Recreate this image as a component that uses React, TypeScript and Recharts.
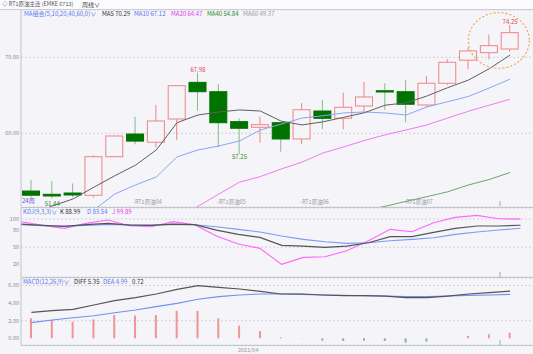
import { ComposedChart, Bar, Line, XAxis, YAxis, CartesianGrid, ReferenceDot, Cell } from "recharts";

// weekly RT1 crude, 24 bars
const opens = [52.4, 51.97, 52.14, 51.84, 56.92, 59.9, 58.82, 61.88, 66.7, 65.47, 61.53, 60.79, 61.39, 59.25, 62.93, 61.97, 63.59, 65.6, 65.47, 63.72, 66.58, 69.62, 70.61, 71.09];
const closes = [51.85, 51.75, 51.88, 56.92, 59.64, 58.97, 61.62, 66.26, 65.47, 61.39, 60.66, 61.13, 59.25, 63.1, 61.97, 63.42, 64.78, 65.43, 63.82, 66.58, 69.34, 70.84, 71.53, 73.24];
const highs = [53.86, 53.7, 53.4, 57.1, 59.74, 62.18, 63.72, 66.35, 67.98, 66.45, 61.97, 62.18, 61.45, 63.95, 64.38, 65.34, 66.75, 66.58, 67.0, 67.54, 69.74, 71.28, 73.0, 74.25];
const lows = [51.55, 51.44, 51.6, 51.55, 56.92, 58.55, 58.16, 59.1, 62.97, 58.16, 57.25, 58.76, 57.58, 58.6, 60.53, 60.53, 62.84, 63.07, 61.45, 63.5, 66.36, 68.42, 69.74, 70.74];

const ma5 = [49.2, 50.43, 51.36, 52.9, 54.4, 55.8, 57.8, 61.4, 62.4, 62.8, 63.07, 62.93, 61.6, 61.1, 61.5, 62.1, 62.7, 63.7, 64.0, 64.9, 66.0, 67.0, 68.5, 70.29];
const ma10 = [null, null, 48.0, 49.9, 52.0, 53.2, 54.25, 56.9, 57.8, 58.33, 58.99, 60.43, 61.2, 62.0, 62.3, 62.67, 62.8, 62.67, 62.4, 63.46, 64.16, 64.84, 65.96, 67.12];
const ma20 = [null, null, null, null, null, null, null, 49.1, 50.38, 52.0, 53.57, 54.3, 55.3, 56.2, 57.4, 58.2, 59.05, 59.8, 60.43, 61.1, 62.0, 62.9, 63.7, 64.47];
const ma40 = [null, null, null, null, null, null, null, null, null, null, null, null, null, null, null, null, 49.8, 50.4, 51.04, 51.66, 52.3, 53.2, 53.92, 54.84];

const kVals = [91.1, 88.7, 87.0, 89.9, 92.3, 89.3, 88.7, 91.1, 89.9, 80.4, 72.7, 67.4, 53.2, 52.0, 49.6, 52.0, 57.9, 68.6, 68.6, 76.3, 83.4, 87.6, 87.6, 88.99];
const dVals = [89.9, 88.1, 87.6, 88.7, 90.5, 89.9, 89.3, 90.5, 89.9, 86.4, 81.6, 76.9, 69.8, 63.9, 59.7, 56.7, 57.9, 61.5, 63.9, 66.8, 72.7, 76.9, 80.4, 83.54];
const jVals = [95.3, 88.7, 83.4, 92.3, 98.2, 88.1, 86.4, 95.3, 89.9, 69.8, 55.6, 47.9, 19.4, 31.9, 33.0, 43.7, 61.5, 81.6, 77.5, 93.5, 103.0, 106.5, 100.6, 99.89];

const diff = [2.95, 3.14, 3.29, 3.78, 4.28, 4.62, 5.03, 5.56, 5.98, 5.79, 5.6, 5.34, 5.03, 5.03, 4.92, 4.84, 4.84, 4.8, 4.62, 4.62, 4.8, 5.03, 5.18, 5.35];
const dea = [1.78, 2.08, 2.34, 2.57, 2.91, 3.22, 3.6, 3.97, 4.43, 4.73, 4.92, 5.03, 5.03, 4.99, 4.92, 4.88, 4.84, 4.8, 4.73, 4.73, 4.8, 4.88, 4.92, 4.99];
const macd = [2.27, 2.08, 1.89, 2.16, 2.65, 2.58, 2.65, 3.11, 3.11, 2.27, 1.44, 0.83, 0.11, 0.04, -0.27, -0.3, -0.27, -0.3, -0.49, -0.38, 0.02, 0.27, 0.45, 0.64];

const rows = opens.map((o, i) => ({
  i,
  open: o,
  close: closes[i],
  high: highs[i],
  low: lows[i],
  ma5: ma5[i],
  ma10: ma10[i],
  ma20: ma20[i],
  ma40: ma40[i],
  k: kVals[i],
  d: dVals[i],
  j: jVals[i],
  diff: diff[i],
  dea: dea[i],
  macd: macd[i],
}));

const BG = "#f4f4f9";
const UP = "#f08585";
const DOWN = "#007300";
const DOWN_WICK = "#86bd86";
const FONT = "'Noto Sans CJK SC', 'Noto Sans', sans-serif";
const GRID = "#d0d0d8";
const AXIS = "#c4c4cc";
const TICK = { fontSize: 5.5, fill: "#8a8a92", fontFamily: FONT };

function Candle(props: any) {
  const { x, y, width, height, payload } = props;
  if (x == null || y == null || !payload) return null;
  const { open, close, high, low } = payload;
  const top = Math.min(y, y + height);
  const h = Math.abs(height);
  const span = high - low || 1;
  const py = (v: number) => top + ((high - v) / span) * h;
  const cx = x + width / 2;
  const up = close > open;
  const bTop = py(Math.max(open, close));
  const bBot = Math.max(py(Math.min(open, close)), bTop + 1);
  const wick = up ? UP : DOWN_WICK;
  return (
    <g>
      {bTop > top + 0.3 && <line x1={cx} x2={cx} y1={top} y2={bTop} stroke={wick} strokeWidth={1} />}
      {bBot < top + h - 0.3 && <line x1={cx} x2={cx} y1={bBot} y2={top + h} stroke={wick} strokeWidth={1} />}
      <rect
        x={x + 0.5}
        y={bTop}
        width={width - 1}
        height={bBot - bTop}
        fill={up ? BG : DOWN}
        stroke={up ? UP : DOWN}
        strokeWidth={1}
      />
    </g>
  );
}

function Txt({ x, y, color, children, size = 6 }: any) {
  return (
    <span
      style={{
        position: "absolute",
        left: x,
        top: y,
        fontSize: size,
        lineHeight: 1,
        color,
        whiteSpace: "nowrap",
        fontFamily: FONT,
      }}
    >
      {children}
    </span>
  );
}

const xPad = { left: 0, right: 12.5 };

export default function App() {
  return (
    <div
      style={{
        position: "absolute",
        left: 0,
        top: 0,
        width: 533,
        height: 354,
        background: BG,
        overflow: "hidden",
        fontFamily: FONT,
      }}
    >
      {/* header bar */}
      <div
        style={{
          position: "absolute",
          left: 0,
          top: 0,
          width: 533,
          height: 9,
          background: "#fbfbfd",
          borderBottom: "1px solid #cdcdd4",
        }}
      />
      <Txt x={2} y={2} color="#555" size={5.5}>◇ RT1原油主连 (EMKE 6713)</Txt>
      <Txt x={82} y={1.5} color="#444" size={6}>周线∨</Txt>

      {/* main candle panel */}
      <div style={{ position: "absolute", left: 0, top: 10 }}>
        <ComposedChart width={533} height={197} data={rows} margin={{ top: 0, right: 0, bottom: 0, left: 0 }}>
          <CartesianGrid vertical={false} stroke={GRID} strokeDasharray="2 2" />
          <XAxis dataKey="i" type="category" hide padding={xPad} />
          <YAxis
            width={21}
            domain={[50.3, 76.22]}
            allowDataOverflow
            ticks={[60, 70]}
            tickFormatter={(v: number) => v.toFixed(2)}
            tick={TICK}
            tickLine={false}
            tickSize={0}
            tickMargin={2}
            axisLine={{ stroke: AXIS }}
          />
          <Bar dataKey={(d: any) => [d.low, d.high]} barSize={18} isAnimationActive={false} shape={(p: any) => <Candle {...p} />} />
          <Line dataKey="ma40" stroke="#6aa66a" strokeWidth={1} dot={false} isAnimationActive={false} />
          <Line dataKey="ma20" stroke="#f27af2" strokeWidth={1} dot={false} isAnimationActive={false} />
          <Line dataKey="ma10" stroke="#8aa6f2" strokeWidth={1} dot={false} isAnimationActive={false} />
          <Line dataKey="ma5" stroke="#606060" strokeWidth={1} dot={false} isAnimationActive={false} />
          <ReferenceDot x={8} y={67.98} r={0} stroke="none" label={{ value: "67.98", position: "top", offset: 1, fill: "#e04848", fontSize: 6, fontFamily: FONT }} />
          <ReferenceDot x={23} y={74.25} r={0} stroke="none" label={{ value: "74.25", position: "top", offset: 1, fill: "#e04848", fontSize: 6, fontFamily: FONT }} />
          <ReferenceDot x={10} y={57.25} r={0} stroke="none" label={{ value: "57.25", position: "bottom", offset: 1, fill: "#2e8a2e", fontSize: 6, fontFamily: FONT }} />
          <ReferenceDot x={1} y={51.44} r={0} stroke="none" label={{ value: "51.44", position: "bottom", offset: 3, fill: "#2e8a2e", fontSize: 6, fontFamily: FONT }} />
        </ComposedChart>
      </div>

      {/* MA legend */}
      <Txt x={24} y={11} color="#5b78ee">MA组合(5,10,20,40,60,0)∨</Txt>
      <Txt x={102} y={11} color="#333">MA5 70.29</Txt>
      <Txt x={134} y={11} color="#5b78ee">MA10 67.12</Txt>
      <Txt x={171} y={11} color="#e040e0">MA20 64.47</Txt>
      <Txt x={207} y={11} color="#2a8a2a">MA40 54.84</Txt>
      <Txt x={243} y={11} color="#9a9a9a">MA60 49.37</Txt>

      {/* contract roll markers */}
      <Txt x={22} y={198} color="#5656c8">24周</Txt>
      <Txt x={133} y={200} color="#9a9aa2" size={5.5}>-RT1原油04</Txt>
      <Txt x={217} y={200} color="#9a9aa2" size={5.5}>-RT1原油05</Txt>
      <Txt x={300} y={200} color="#9a9aa2" size={5.5}>-RT1原油06</Txt>
      <Txt x={404} y={200} color="#9a9aa2" size={5.5}>-RT1原油07</Txt>

      {/* highlight ellipse */}
      <svg style={{ position: "absolute", left: 0, top: 0 }} width={533} height={354}>
        <ellipse cx={498.8} cy={40.5} rx={30.5} ry={27.8} fill="none" stroke="#f4a048" strokeWidth={1.1} strokeDasharray="2 2" />
        <line x1={21} x2={533} y1={207.5} y2={207.5} stroke={AXIS} />
        <line x1={21} x2={533} y1={277.5} y2={277.5} stroke={AXIS} />
        <line x1={21} x2={533} y1={345.5} y2={345.5} stroke={AXIS} />
        <line x1={500} x2={500} y1={201} y2={206} stroke="#aaa" />
        <line x1={500} x2={500} y1={272} y2={277} stroke="#aaa" />
        <line x1={500} x2={500} y1={340} y2={345} stroke="#aaa" />
      </svg>

      {/* KDJ panel */}
      <div style={{ position: "absolute", left: 0, top: 208 }}>
        <ComposedChart width={533} height={69} data={rows} margin={{ top: 0, right: 0, bottom: 0, left: 0 }}>
          <CartesianGrid vertical={false} stroke={GRID} strokeDasharray="2 2" />
          <XAxis dataKey="i" type="category" hide padding={xPad} />
          <YAxis
            width={21}
            domain={[-3, 119.6]}
            allowDataOverflow
            ticks={[20, 50, 80, 100]}
            tick={TICK}
            tickLine={false}
            tickSize={0}
            tickMargin={2}
            axisLine={{ stroke: AXIS }}
          />
          <Line dataKey="j" stroke="#ff66ff" strokeWidth={1.1} dot={false} isAnimationActive={false} />
          <Line dataKey="d" stroke="#7b9cf2" strokeWidth={1.1} dot={false} isAnimationActive={false} />
          <Line dataKey="k" stroke="#555" strokeWidth={1.2} dot={false} isAnimationActive={false} />
        </ComposedChart>
      </div>
      <Txt x={23} y={208.5} color="#5b78ee">KDJ(9,3,3)∨</Txt>
      <Txt x={60} y={208.5} color="#333">K 88.99</Txt>
      <Txt x={87} y={208.5} color="#5b78ee">D 83.54</Txt>
      <Txt x={112} y={208.5} color="#e040e0">J 99.89</Txt>

      {/* MACD panel */}
      <div style={{ position: "absolute", left: 0, top: 278 }}>
        <ComposedChart width={533} height={67} data={rows} margin={{ top: 0, right: 0, bottom: 0, left: 0 }}>
          <CartesianGrid vertical={false} stroke={GRID} strokeDasharray="2 2" />
          <XAxis dataKey="i" type="category" hide padding={xPad} />
          <YAxis
            width={21}
            domain={[-0.76, 6.85]}
            allowDataOverflow
            ticks={[0, 2, 4, 6]}
            tickFormatter={(v: number) => v.toFixed(2)}
            tick={TICK}
            tickLine={false}
            tickSize={0}
            tickMargin={2}
            axisLine={{ stroke: AXIS }}
          />
          <Bar dataKey="macd" barSize={2} isAnimationActive={false}>
            {rows.map((r, i) => (
              <Cell key={i} fill={r.macd >= 0 ? "#f29494" : "#7cc07c"} />
            ))}
          </Bar>
          <Line dataKey="dea" stroke="#6f92f0" strokeWidth={1.1} dot={false} isAnimationActive={false} />
          <Line dataKey="diff" stroke="#555" strokeWidth={1.2} dot={false} isAnimationActive={false} />
        </ComposedChart>
      </div>
      <Txt x={23} y={278.5} color="#5b78ee">MACD(12,26,9)∨</Txt>
      <Txt x={74} y={278.5} color="#333">DIFF 5.35</Txt>
      <Txt x={103} y={278.5} color="#5b78ee">DEA 4.99</Txt>
      <Txt x={132} y={278.5} color="#333">0.72</Txt>

      <Txt x={238} y={347.5} color="#9a9aa2" size={5.5}>2021/04</Txt>
    </div>
  );
}
